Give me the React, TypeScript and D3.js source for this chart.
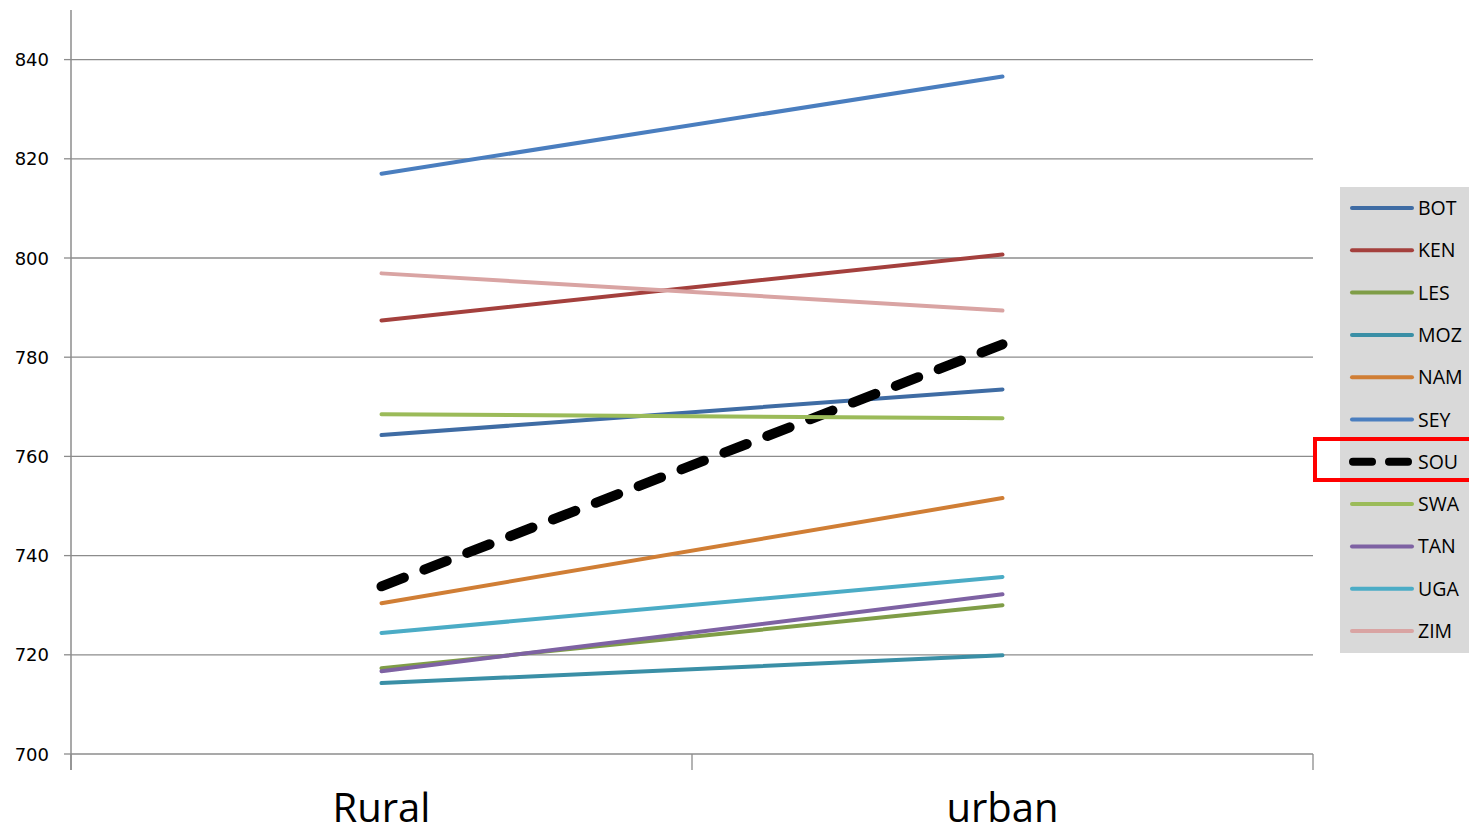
import React from "react";
import * as d3 from "d3";

const categories = ["Rural", "urban"];
const seriesNames = ["BOT", "KEN", "LES", "MOZ", "NAM", "SEY", "SOU", "SWA", "TAN", "UGA", "ZIM"];
const ruralValues = [764.3, 787.4, 717.3, 714.3, 730.4, 817.0, 733.8, 768.5, 716.7, 724.4, 796.9];
const urbanValues = [773.5, 800.7, 730.0, 719.9, 751.6, 836.6, 782.6, 767.7, 732.2, 735.7, 789.4];
const seriesColors = ["#3F6CA4", "#A4403D", "#7F9D47", "#3A8FA6", "#D07E35", "#4A7EBF", "#000000", "#9BBB59", "#7E62A3", "#4BACC6", "#D9A4A3"];
const yTicks = [700, 720, 740, 760, 780, 800, 820, 840];
const highlighted = "SOU";

const W = 1469;
const H = 835;
const left = 71;
const right = 1313;
const top = 10;
const bottom = 754;

export default function App() {
  const x = d3.scalePoint<string>().domain(categories).range([left, right]).padding(0.5);
  const xb = d3.scaleBand<string>().domain(categories).range([left, right]);
  const y = d3.scaleLinear().domain([700, 850]).range([bottom, top]);
  const line = d3
    .line<[string, number]>()
    .x((d) => x(d[0]) as number)
    .y((d) => y(d[1]));

  const legendX = 1340;
  const legendY = 187;
  const legendStep = 42.3;
  const legendFirst = 208;

  return (
    <svg width={W} height={H} style={{ position: "absolute", left: 0, top: 0, background: "#fff" }}>
      {/* gridlines */}
      {yTicks.slice(1).map((t) => (
        <line key={t} x1={left} x2={right} y1={y(t)} y2={y(t)} stroke="#8c8c8c" strokeWidth={1.3} />
      ))}
      {/* y axis */}
      <line x1={left} x2={left} y1={top} y2={bottom + 16} stroke="#8c8c8c" strokeWidth={1.5} />
      {yTicks.map((t) => (
        <g key={t}>
          <line x1={left - 7} x2={left} y1={y(t)} y2={y(t)} stroke="#8c8c8c" strokeWidth={1.3} />
          <text x={49} y={y(t) + 6.5} textAnchor="end" fontFamily="DejaVu Sans" fontSize={18} fill="#000">
            {t}
          </text>
        </g>
      ))}
      {/* x axis */}
      <line x1={left} x2={right} y1={bottom} y2={bottom} stroke="#8c8c8c" strokeWidth={1.5} />
      {[...categories.map((c) => xb(c) as number), right].map((xv, i) => (
        <line key={i} x1={xv} x2={xv} y1={bottom} y2={bottom + 16} stroke="#8c8c8c" strokeWidth={1.3} />
      ))}
      {categories.map((c) => (
        <text
          key={c}
          x={x(c)}
          y={822}
          textAnchor="middle"
          fontFamily="Open Sans"
          fontSize={40}
          fill="#000"
        >
          {c}
        </text>
      ))}
      {/* series */}
      {seriesNames.map((s, i) => {
        const isHi = s === highlighted;
        return (
          <path
            key={s}
            d={line([
              [categories[0], ruralValues[i]],
              [categories[1], urbanValues[i]],
            ]) as string}
            fill="none"
            stroke={seriesColors[i]}
            strokeWidth={isHi ? 10 : 4}
            strokeLinecap="round"
            strokeDasharray={isHi ? "24 22" : undefined}
          />
        );
      })}
      {/* legend */}
      <rect x={legendX} y={legendY} width={W - legendX} height={653 - legendY} fill="#d9d9d9" />
      {seriesNames.map((s, i) => {
        const ly = legendFirst + i * legendStep;
        const isHi = s === highlighted;
        return (
          <g key={s}>
            {isHi ? (
              <line
                x1={1353}
                x2={1410}
                y1={ly}
                y2={ly}
                stroke="#000"
                strokeWidth={8}
                strokeLinecap="round"
                strokeDasharray="19 17"
              />
            ) : (
              <line x1={1352} x2={1412} y1={ly} y2={ly} stroke={seriesColors[i]} strokeWidth={4} strokeLinecap="round" />
            )}
            <text x={1418} y={ly + 7} fontFamily="Open Sans" fontSize={19.5} fill="#000">
              {s}
            </text>
          </g>
        );
      })}
      {/* highlight box */}
      <rect x={1315} y={439} width={170} height={41} fill="none" stroke="#ff0000" strokeWidth={4} />
    </svg>
  );
}
